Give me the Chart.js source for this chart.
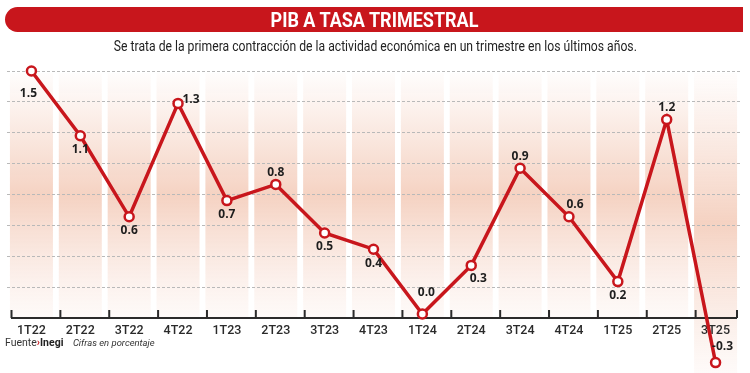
<!DOCTYPE html>
<html>
<head>
<meta charset="utf-8">
<script src="https://cdn.jsdelivr.net/npm/chart.js@4.4.1/dist/chart.umd.min.js"></script>
<style>
    body { margin: 0; width: 750px; height: 373px; background: #fff; overflow: hidden; position: relative;
           font-family: Roboto, sans-serif; }
    #grafica { position: absolute; left: 0; top: 0; }
    .barra { position: absolute; left: 5px; top: 7px; width: 738px; height: 25px; background: #c8161c;
             border-radius: 13px 0 0 13px; color: #fff; font-weight: bold; font-size: 20px;
             text-align: center; line-height: 26px; }
    .barra span { display: inline-block; transform: scaleX(0.9); }
    .sub { position: absolute; left: 0; top: 38px; width: 750px; text-align: center; font-size: 14.5px; color: #222; }
    .sub span { display: inline-block; transform: scaleX(0.84); }
    .pie { position: absolute; left: 5px; top: 337px; font-size: 10px; color: #333; white-space: nowrap;
           transform: scaleX(1.05); transform-origin: left; }
    .pie b { color: #222; }
    .pie .flecha { color: #c8161c; font-weight: bold; }
    .pie i { margin-left: 9px; font-size: 9px; }
</style>
</head>
<body>
<canvas id="grafica" width="750" height="373"></canvas>
<div class="barra"><span>PIB A TASA TRIMESTRAL</span></div>
<div class="sub"><span>Se trata de la primera contracción de la actividad económica en un trimestre en los últimos años.</span></div>
<div class="pie">Fuente<span class="flecha">›</span><b>Inegi</b><i>Cifras en porcentaje</i></div>

<script>
// ==================== DATOS ====================
const trimestres = ['1T22','2T22','3T22','4T22','1T23','2T23','3T23','4T23','1T24','2T24','3T24','4T24','1T25','2T25','3T25'];
const pib = [1.5, 1.1, 0.6, 1.3, 0.7, 0.8, 0.5, 0.4, 0.0, 0.3, 0.9, 0.6, 0.2, 1.2, -0.3];
// donde va cada etiqueta respecto al punto
const posEtiqueta = ['abajoLejos','abajo','abajo','derecha','abajo','arriba','abajo','abajo','arribaLejos','abajoDer','arriba','arribaDer','abajo','arriba','arribaDer2'];

const ROJO = '#c8161c';

const offsets = {
    abajo: [0, 14], abajoLejos: [-3, 23], arriba: [0, -12], arribaLejos: [4, -21],
    derecha: [13, -4], abajoDer: [7, 13], arribaDer: [6, -12], arribaDer2: [7, -16]
};

// ==================== PLUGIN: FRANJAS, EJE Y ETIQUETAS ====================
const franjas = {
    id: 'franjas',
    beforeDraw(chart) {
        const { ctx, chartArea, scales: { x } } = chart;
        ctx.save();
        pib.forEach((v, i) => {
            const cx = x.getPixelForValue(i);
            const top = chartArea.top + 2;
            const bottom = v < 0 ? chart.height : chartArea.bottom;
            const g = ctx.createLinearGradient(0, top, 0, bottom);
            g.addColorStop(0, 'rgba(246,214,200,0.05)');
            g.addColorStop(0.5, 'rgba(245,210,194,1)');
            g.addColorStop(1, 'rgba(248,224,214,0.15)');
            ctx.fillStyle = g;
            ctx.fillRect(cx - 21.5, top, 43, bottom - top);
        });
        ctx.restore();
    },
    beforeDatasetsDraw(chart) {
        // eje x con marcas hacia arriba
        const { ctx, chartArea, scales: { x } } = chart;
        const y = chartArea.bottom;
        const paso = x.getPixelForValue(1) - x.getPixelForValue(0);
        ctx.save();
        ctx.strokeStyle = '#2b2b2b';
        ctx.lineWidth = 2;
        ctx.beginPath();
        ctx.moveTo(chartArea.left + 4, y);
        ctx.lineTo(chartArea.right - 3, y);
        for (let i = 0; i <= trimestres.length; i++) {
            let px = x.getPixelForValue(i) - paso / 2 + 4.5;
            if (i === trimestres.length) px = chartArea.right - 3;
            ctx.moveTo(px, y);
            ctx.lineTo(px, y - 8);
        }
        ctx.stroke();
        ctx.restore();
    },
    afterDatasetsDraw(chart) {
        const { ctx, chartArea } = chart;
        const meta = chart.getDatasetMeta(0);
        ctx.save();
        // puntos fuera del area (Chart.js no los pinta)
        meta.data.forEach((pt) => {
            if (pt.y > chartArea.bottom || pt.y < chartArea.top) {
                ctx.beginPath();
                ctx.arc(pt.x, pt.y, 4.5, 0, Math.PI * 2);
                ctx.fillStyle = '#fff';
                ctx.fill();
                ctx.lineWidth = 2.5;
                ctx.strokeStyle = ROJO;
                ctx.stroke();
            }
        });
        ctx.font = 'bold 12px "Open Sans", sans-serif';
        ctx.fillStyle = '#1e1e1e';
        ctx.textAlign = 'center';
        ctx.textBaseline = 'middle';
        meta.data.forEach((pt, i) => {
            const o = offsets[posEtiqueta[i]];
            ctx.fillText(pib[i].toFixed(1), pt.x + o[0], pt.y + o[1]);
        });
        ctx.restore();
    }
};

// ==================== GRAFICA ====================
new Chart(document.getElementById('grafica'), {
    type: 'line',
    data: {
        labels: trimestres,
        datasets: [{
            data: pib,
            borderColor: ROJO,
            borderWidth: 3.5,
            tension: 0,
            clip: false,
            pointRadius: 4.5,
            pointBorderWidth: 2.5,
            pointBackgroundColor: '#fff',
            pointBorderColor: ROJO
        }]
    },
    options: {
        responsive: false,
        devicePixelRatio: 1,
        animation: false,
        layout: { padding: { top: 71, left: 6, right: 10, bottom: 35 } },
        plugins: { legend: { display: false }, tooltip: { enabled: false } },
        scales: {
            x: {
                offset: true,
                grid: { display: false, drawTicks: false },
                border: { display: false },
                ticks: { color: '#2a2a2a', padding: 5, font: { family: 'Roboto, sans-serif', size: 12.5, weight: '500' } },
                afterFit(s) { s.height = 20; }
            },
            y: {
                min: -0.0247,
                max: 1.5,
                ticks: { display: false, count: 9 },
                border: { display: false, dash: [3, 2] },
                grid: {
                    drawTicks: false,
                    color: (c) => c.index === 0 ? 'rgba(0,0,0,0)' : '#b9b9b9',
                    lineWidth: 1
                },
                afterFit(s) { s.width = 0; }
            }
        }
    },
    plugins: [franjas]
});
</script>
</body>
</html>
